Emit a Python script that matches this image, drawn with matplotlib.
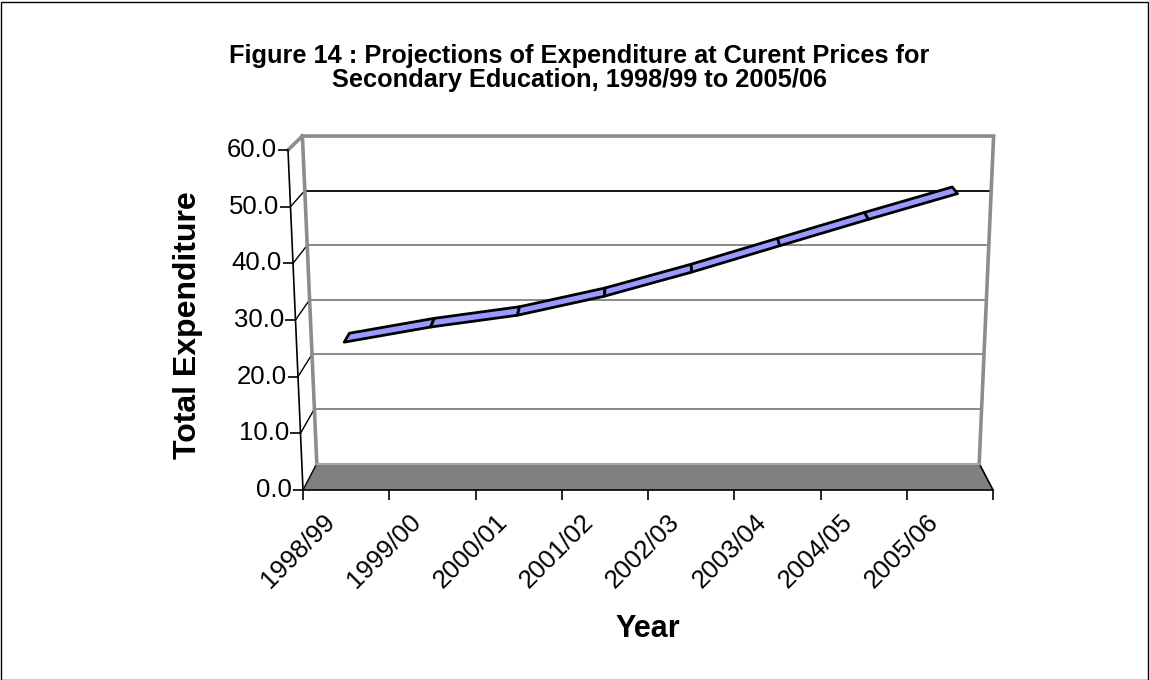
import numpy as np
import matplotlib
matplotlib.use("Agg")
import matplotlib.pyplot as plt
from matplotlib.patches import Polygon, Rectangle
from matplotlib.markers import TICKLEFT

plt.rcParams['font.family'] = ['Liberation Sans', 'DejaVu Sans']

# ---- data ----
years = ["1998/99", "1999/00", "2000/01", "2001/02",
         "2002/03", "2003/04", "2004/05", "2005/06"]
expenditure = [25.0, 27.7, 29.8, 33.2, 37.5, 42.2, 46.9, 51.5]
y_ticks = [0, 10, 20, 30, 40, 50, 60]
title = ("Figure 14 : Projections of Expenditure at Curent Prices for\n"
         "Secondary Education, 1998/99 to 2005/06")
x_title = "Year"
y_title = "Total Expenditure"

# ---- pseudo 3-D projection (front plane = axes data coords) ----
N = len(years)
VMAX = 60.0
PERSP_V = 0.0435    # widening with height
PERSP_Z = 0.04      # narrowing with depth
DEPTH_Y = 4.676     # upward shift of back plane (value units)
SHRINK_Y = 0.0369   # vertical shrink of back plane


def proj(x, v, z):
    x = np.asarray(x, float)
    v = np.asarray(v, float)
    z = np.asarray(z, float)
    X = N / 2 + (x - N / 2) * (1 + PERSP_V * v / VMAX) * (1 - PERSP_Z * z)
    Y = DEPTH_Y * z + v * (1 - SHRINK_Y * z)
    return X, Y


W, H = 1149, 680
fig = plt.figure(figsize=(W / 100, H / 100), dpi=100)
ax = fig.add_axes([303 / W, (H - 490) / H, 690 / W, 340 / H])
ax.set_xlim(0, N)
ax.set_ylim(0, VMAX)
ax.set_facecolor('none')
for s in ['top', 'right', 'left']:
    ax.spines[s].set_visible(False)
ax.spines['bottom'].set_linewidth(1.2)
ax.set_yticks([])
ax.set_xticks(np.arange(N + 1), minor=True)
ax.set_xticks(np.arange(N) + 0.5)
ax.set_xticklabels([])
ax.tick_params(axis='x', which='major', length=0)
ax.tick_params(axis='x', which='minor', length=7, width=1.2, direction='out')

# floor
fx, fy = proj([0, N, N, 0], [0, 0, 0, 0], [0, 0, 1, 1])
ax.add_patch(Polygon(np.column_stack([fx, fy]), closed=True,
                     facecolor='#808080', edgecolor='none', zorder=1))
ex, ey = proj([N, N], [0, 0], [0, 1])
ax.plot(ex, ey, color='black', lw=1.2, zorder=2, clip_on=False)

# back wall gridlines and side-wall lines
for v in y_ticks[1:]:
    gx, gy = proj([0, N], [v, v], [1, 1])
    col = 'black' if v == 50 else '#808080'
    if v < VMAX:
        ax.plot(gx, gy, color=col, lw=1.3, zorder=2, clip_on=False)
for v in y_ticks[:-1]:
    sx, sy = proj([0, 0], [v, v], [0, 1])
    ax.plot(sx, sy, color='black', lw=1.0, zorder=2, clip_on=False)

# wall edges (gray)
wx, wy = proj([0, 0, N, N], [0, VMAX, VMAX, 0], [1, 1, 1, 1])
ax.plot(wx, wy, color='#8c8c8c', lw=2.6, zorder=2, clip_on=False,
        solid_joinstyle='miter')
bx, by = proj([0, N], [0, 0], [1, 1])
ax.plot(bx, by, color='#a6a6a6', lw=1.5, zorder=2, clip_on=False)
tx, ty = proj([0, 0], [VMAX, VMAX], [0, 1])
ax.plot(tx, ty, color='#8c8c8c', lw=2.6, zorder=2, clip_on=False)

# front value axis
ax_x, ax_y = proj([0, 0], [0, VMAX], [0, 0])
ax.plot(ax_x, ax_y, color='black', lw=1.2, zorder=3, clip_on=False)
kx, ky = proj(np.zeros(len(y_ticks)), y_ticks, np.zeros(len(y_ticks)))
ax.plot(kx, ky, ls='none', marker=TICKLEFT, ms=7, mew=1.2, color='black',
        clip_on=False, zorder=3)
for xx, yy, v in zip(kx, ky, y_ticks):
    ax.annotate(f"{v:.1f}", xy=(xx, yy), xytext=(-8, 0),
                textcoords='offset points', ha='right', va='center',
                fontsize=18.5, annotation_clip=False)

# category labels
for i, lab in enumerate(years):
    ax.annotate(lab, xy=(i + 0.5, 0), xytext=(-17, -14),
                textcoords='offset points', ha='right', va='top',
                rotation=45, rotation_mode='anchor', fontsize=18.5,
                annotation_clip=False)

# ribbon
Z1, Z2 = 0.29, 0.71
xs = np.arange(N) + 0.5
vals = np.asarray(expenditure, float)
for i in range(N - 1):
    px1, py1 = proj(xs[i:i + 2], vals[i:i + 2], [Z1, Z1])
    px2, py2 = proj(xs[i:i + 2][::-1], vals[i:i + 2][::-1], [Z2, Z2])
    poly = np.column_stack([np.r_[px1, px2], np.r_[py1, py2]])
    ax.add_patch(Polygon(poly, closed=True, facecolor='#9999FF',
                         edgecolor='black', lw=2.0, zorder=5,
                         joinstyle='round', clip_on=False))

# texts
fig.text(579 / W, 1 - 68 / H, title, ha='center', va='center',
         fontsize=18.3, fontweight='bold', linespacing=1.02)
fig.text(188 / W, 1 - 325 / H, y_title, ha='center', va='center',
         rotation=90, fontsize=23, fontweight='bold')
fig.text(648 / W, 1 - 637 / H, x_title, ha='center', va='baseline',
         fontsize=22, fontweight='bold')

fig.add_artist(Rectangle((0.5 / W, 0.5 / H), (W - 2) / W, (H - 2) / H,
                         transform=fig.transFigure, fill=False,
                         edgecolor='black', lw=1.0))

fig.savefig("out.png", dpi=100)
